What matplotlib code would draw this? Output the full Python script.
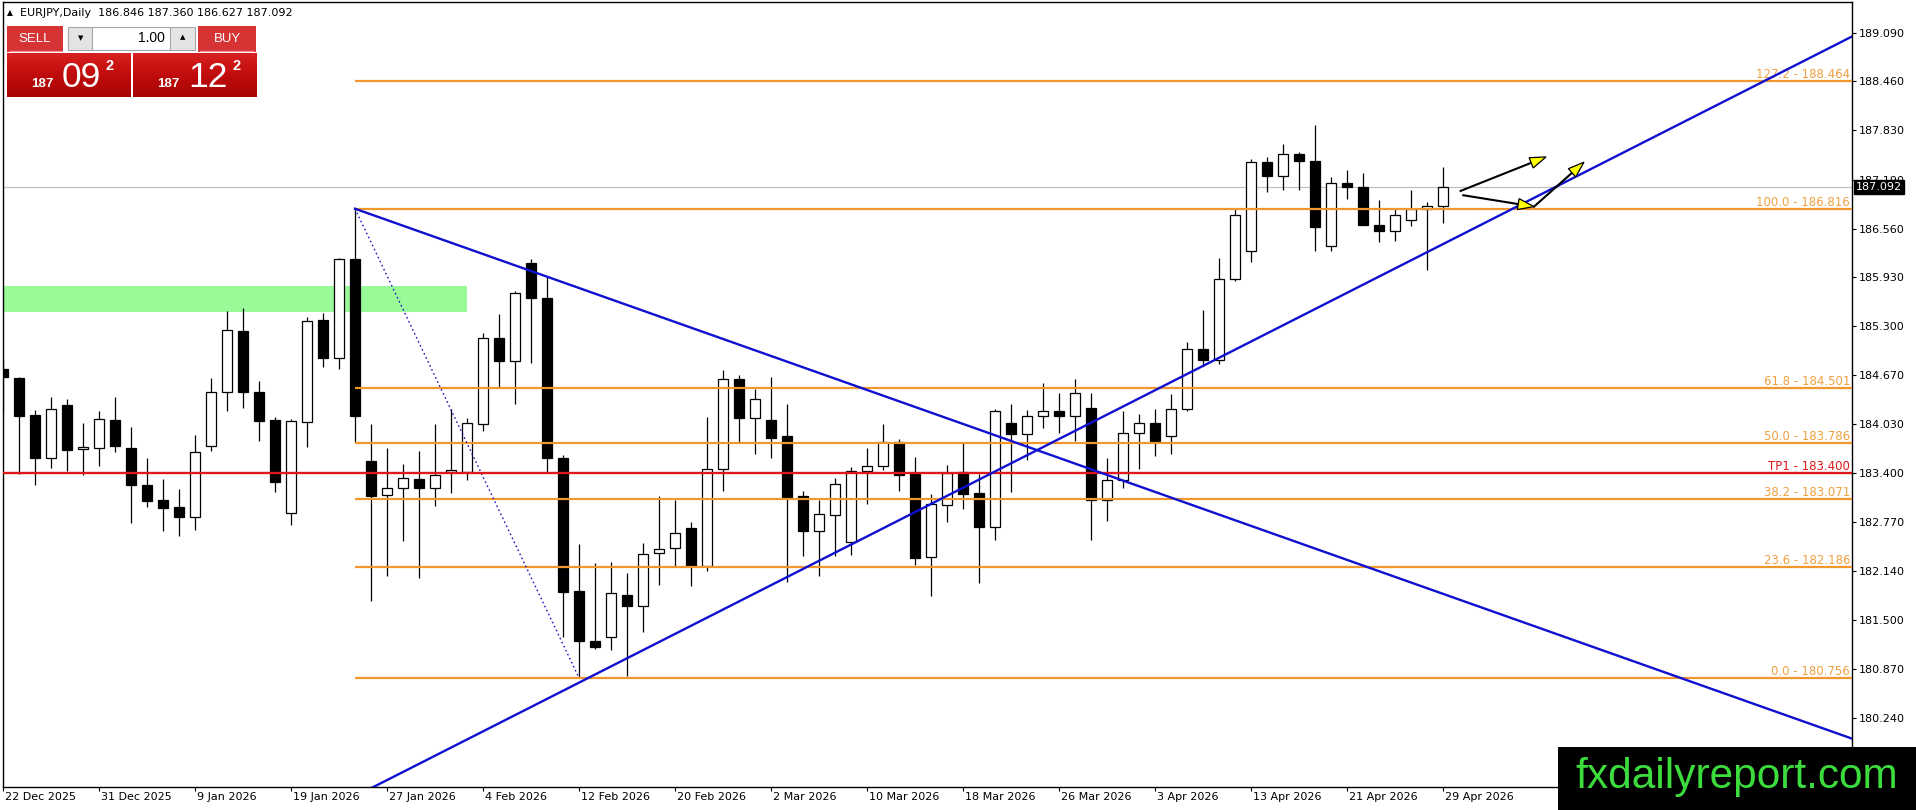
import matplotlib
matplotlib.use('Agg')
import matplotlib.pyplot as plt
import matplotlib.transforms as mtransforms
from matplotlib.patches import Rectangle, Polygon
from matplotlib.colors import LinearSegmentedColormap
import numpy as np

# ---------------- data ----------------
symbol_title = "EURJPY,Daily"
header_ohlc = "186.846 187.360 186.627 187.092"

opens = [184.74, 184.63, 184.15, 183.60, 184.28, 183.71, 183.73, 184.085, 183.72, 183.244,
         183.05, 182.956, 182.827, 183.752, 184.453, 185.232, 184.453, 184.083, 182.879, 184.066,
         185.374, 184.892, 186.161, 183.550, 183.116, 183.202, 183.322, 183.202, 183.42, 183.417,
         184.04, 185.15, 184.849, 186.109, 185.666, 183.589, 181.873, 181.236, 181.279, 181.83,
         181.679, 182.363, 182.428, 182.685, 182.204, 183.452, 184.613, 184.118, 184.084, 183.873,
         183.099, 182.656, 182.862, 182.505, 183.43, 183.495, 183.796, 183.387, 182.32, 182.991,
         183.409, 183.142, 182.708, 184.045, 183.908, 184.14, 184.196, 184.14, 184.238, 183.05,
         183.309, 183.924, 184.053, 183.881, 184.234, 185.008, 184.862, 185.911, 186.272, 187.421,
         187.236, 187.524, 187.438, 186.333, 187.15, 187.098, 186.604, 186.526, 186.664, 186.806,
         186.846]
highs = [184.87, 184.64, 184.22, 184.38, 184.36, 184.045, 184.20, 184.38, 184.00, 183.59,
         183.33, 183.20, 183.898, 184.625, 185.494, 185.529, 184.591, 184.131, 184.105, 185.421,
         185.473, 186.174, 186.816, 184.032, 183.722, 183.524, 183.688, 184.032, 184.225, 184.118,
         185.215, 185.451, 185.752, 186.169, 185.937, 183.636, 182.483, 182.238, 182.247, 182.109,
         182.492, 183.098, 183.051, 182.763, 184.131, 184.729, 184.665, 184.493, 184.647, 184.29,
         183.163, 183.052, 183.335, 183.482, 183.723, 184.032, 183.839, 183.602, 183.129, 183.503,
         183.787, 183.387, 184.234, 184.29, 184.213, 184.561, 184.441, 184.613, 184.441, 183.601,
         184.204, 184.161, 184.225, 184.419, 185.098, 185.502, 186.182, 186.814, 187.459, 187.485,
         187.657, 187.55, 187.902, 187.227, 187.313, 187.279, 186.926, 186.819, 187.064, 186.905,
         187.360]
lows = [184.18, 183.39, 183.24, 183.46, 183.43, 183.37, 183.49, 183.67, 182.76, 182.965,
        182.655, 182.59, 182.668, 183.688, 184.204, 184.238, 183.817, 183.159, 182.728, 183.731,
        184.776, 184.750, 183.795, 181.744, 182.075, 182.526, 182.040, 182.978, 183.137, 183.313,
        183.946, 184.518, 184.29, 184.819, 183.40, 181.288, 180.756, 181.13, 181.116, 180.776,
        181.352, 181.954, 182.182, 181.946, 182.14, 183.172, 183.783, 183.645, 183.594, 181.989,
        182.333, 182.075, 182.325, 182.346, 183.0, 183.439, 183.172, 182.213, 181.817, 182.772,
        182.935, 181.981, 182.535, 183.151, 183.572, 183.981, 183.916, 183.817, 182.54, 182.78,
        183.21, 183.451, 183.623, 183.653, 184.204, 184.784, 184.806, 185.881, 186.126, 187.029,
        187.055, 187.055, 186.268, 186.268, 186.943, 186.604, 186.384, 186.397, 186.591, 186.023,
        186.627]
closes = [184.64, 184.14, 183.59, 184.225, 183.70, 183.735, 184.10, 183.75, 183.24, 183.042,
          182.948, 182.836, 183.679, 184.453, 185.245, 184.449, 184.075, 183.288, 184.068, 185.365,
          184.888, 186.161, 184.139, 183.107, 183.206, 183.331, 183.202, 183.374, 183.435, 184.053,
          185.15, 184.849, 185.731, 185.666, 183.589, 181.868, 181.236, 181.15, 181.847, 181.679,
          182.35, 182.419, 182.621, 182.204, 183.452, 184.613, 184.11, 184.363, 183.852, 183.095,
          182.656, 182.871, 183.254, 183.43, 183.495, 183.796, 183.378, 182.303, 183.0, 183.396,
          183.129, 182.708, 184.204, 183.908, 184.14, 184.196, 184.14, 184.441, 183.052, 183.309,
          183.924, 184.053, 183.816, 184.234, 185.008, 184.862, 185.911, 186.737, 187.421, 187.236,
          187.524, 187.429, 186.578, 187.15, 187.094, 186.604, 186.526, 186.737, 186.806, 186.857,
          187.092]

date_labels = ['22 Dec 2025', '31 Dec 2025', '9 Jan 2026', '19 Jan 2026', '27 Jan 2026',
               '4 Feb 2026', '12 Feb 2026', '20 Feb 2026', '2 Mar 2026', '10 Mar 2026',
               '18 Mar 2026', '26 Mar 2026', '3 Apr 2026', '13 Apr 2026', '21 Apr 2026',
               '29 Apr 2026']
date_label_bars = [0, 6, 12, 18, 24, 30, 36, 42, 48, 54, 60, 66, 72, 78, 84, 90]

price_ticks = [189.090, 188.460, 187.830, 187.190, 186.560, 185.930, 185.300, 184.670,
               184.030, 183.400, 182.770, 182.140, 181.500, 180.870, 180.240]

fib_start_bar, fib_end_bar = 22, 36
fib_high, fib_low = 186.816, 180.756
fib_levels = [0.0, 23.6, 38.2, 50.0, 61.8, 100.0, 127.2]
fib_prices = [180.756, 182.186, 183.071, 183.786, 184.501, 186.816, 188.464]

tp1_price = 183.400
current_price = 187.092

zone_bars = [-3, 29]
zone_prices = [185.485, 185.813]

down_line_bars, down_line_prices = [22, 68.56], [186.816, 183.409]
up_line_bars, up_line_prices = [43.56, 91.06], [181.486, 186.47]

arrow_starts = [(91.1, 187.046), (91.27, 186.99), (95.69, 186.843)]
arrow_tips = [(96.44, 187.485), (95.69, 186.843), (98.81, 187.417)]

sell_price = ("187", "09", "2")
buy_price = ("187", "12", "2")
lot_size = "1.00"

# ---------------- figure ----------------
W, H, DPI = 1916, 810, 100
fig = plt.figure(figsize=(W / DPI, H / DPI), dpi=DPI)
fig.patch.set_facecolor('white')

L, R, T, B = 2.5, 1852, 2, 787
ax = fig.add_axes([L / W, 1 - B / H, (R - L) / W, (B - T) / H])
BAR_PX = 16.0
x_left = (L - 3) / BAR_PX
x_right = (R - 3) / BAR_PX
PX_PER_UNIT = 77.4
y_top = 189.09 + (32.7 - T) / PX_PER_UNIT
y_bot = 189.09 - (B - 32.7) / PX_PER_UNIT
ax.set_xlim(x_left, x_right)
ax.set_ylim(y_bot, y_top)

FONT = 'DejaVu Sans'
BLUE = '#1010d0'
ORANGE = '#f2972e'
ORANGE_TXT = '#f0a040'
RED = '#e21818'

for s in ax.spines.values():
    s.set_color('black')
    s.set_linewidth(1.0)

# price axis on the right
ax.yaxis.tick_right()
ax.set_yticks(price_ticks)
ax.set_yticklabels([f"{v:.3f}" for v in price_ticks], fontsize=8, family=FONT)
ax.tick_params(axis='y', direction='out', length=3, width=0.8, pad=2, colors='black')
ax.set_xticks(date_label_bars)
ax.set_xticklabels([''] * len(date_label_bars))
ax.tick_params(axis='x', direction='out', length=3, width=0.8)

date_tr = mtransforms.offset_copy(ax.get_xaxis_transform(), fig=fig, x=2, y=-10, units='dots')
for b, lab in zip(date_label_bars, date_labels):
    ax.text(b, 0, lab, transform=date_tr, ha='left', va='center', fontsize=8,
            family=FONT, color='black', clip_on=False)

# zone rectangle (background)
ax.add_patch(Rectangle((zone_bars[0], zone_prices[0]), zone_bars[1] - zone_bars[0],
                       zone_prices[1] - zone_prices[0], facecolor='#98fb98',
                       edgecolor='none', zorder=0.5))

# current price line
ax.axhline(current_price, color='#c0c0c0', lw=0.9, zorder=0.8)

# candles
body_w = 0.64
n = len(opens)
for i in range(n):
    o, h, l, c = opens[i], highs[i], lows[i], closes[i]
    ax.vlines(i, l, h, color='black', lw=0.9, zorder=2)
    bottom = min(o, c)
    height = max(abs(c - o), 0.008)
    fc = 'white' if c >= o else 'black'
    ax.add_patch(Rectangle((i - body_w / 2, bottom), body_w, height, facecolor=fc,
                           edgecolor='black', lw=0.9, zorder=3))

# fibonacci retracement
for lvl, p in zip(fib_levels, fib_prices):
    ax.plot([fib_start_bar, x_right], [p, p], color=ORANGE, lw=1.6, zorder=4,
            solid_capstyle='butt')
lab_tr = mtransforms.offset_copy(ax.transData, fig=fig, x=-2, y=0, units='dots')
for lvl, p in zip(fib_levels, fib_prices):
    ax.text(x_right, p, f"{lvl:.1f} - {p:.3f}", transform=lab_tr, ha='right', va='bottom',
            fontsize=8.5, family=FONT, color=ORANGE_TXT, zorder=4.5)
ax.plot([fib_start_bar, fib_end_bar], [fib_high, fib_low], color='#1818c0', lw=1.0,
        linestyle=(0, (1.2, 2.0)), zorder=4)

# TP1 line
ax.axhline(tp1_price, color=RED, lw=1.7, zorder=4)
ax.text(x_right, tp1_price, f"TP1 - {tp1_price:.3f}", transform=lab_tr, ha='right',
        va='bottom', fontsize=8.5, family=FONT, color=RED, zorder=4.5)

# trend lines
def line_y(bars, prices, x):
    k = (prices[1] - prices[0]) / (bars[1] - bars[0])
    return prices[0] + k * (x - bars[0])

xs = np.array([down_line_bars[0], x_right])
ax.plot(xs, line_y(down_line_bars, down_line_prices, xs), color=BLUE, lw=1.7, zorder=5)
xs = np.array([x_left, x_right])
ax.plot(xs, line_y(up_line_bars, up_line_prices, xs), color=BLUE, lw=1.7, zorder=5)

# arrows
def draw_arrow(start, tip, head_len=16.0, head_hw=5.5):
    s = ax.transData.transform(start)
    t = ax.transData.transform(tip)
    d = t - s
    u = d / np.hypot(*d)
    nrm = np.array([-u[1], u[0]])
    base = t - u * head_len
    base_d = ax.transData.inverted().transform(base)
    ax.plot([start[0], base_d[0]], [start[1], base_d[1]], color='black', lw=1.5, zorder=6)
    poly = ax.transData.inverted().transform(np.array([t, base + nrm * head_hw, base - nrm * head_hw]))
    ax.add_patch(Polygon(poly, closed=True, facecolor='#ffff00', edgecolor='black',
                         lw=0.9, zorder=7))

for st, tp in zip(arrow_starts, arrow_tips):
    draw_arrow(st, tp)

# current price box on axis
cp_tr = mtransforms.offset_copy(ax.get_yaxis_transform(), fig=fig, x=4, y=0, units='dots')
ax.text(1.0, current_price, f"{current_price:.3f}", transform=cp_tr, ha='left', va='center',
        fontsize=8, family=FONT, color='white', clip_on=False, zorder=10,
        bbox=dict(boxstyle='square,pad=0.18', facecolor='black', edgecolor='black'))

# ---------------- overlay (pixel coordinates) ----------------
ov = fig.add_axes([0, 0, 1, 1], zorder=10)
ov.set_xlim(0, W)
ov.set_ylim(H, 0)
ov.axis('off')
ov.patch.set_alpha(0)

ov.text(6.5, 12.5, '\u25B2', fontsize=5.5, family=FONT, va='center', ha='left', color='black')
ov.text(20.5, 12.8, f"{symbol_title}  {header_ohlc}", fontsize=8, family=FONT,
        va='center', ha='left', color='black')

BTN = '#d63434'
ov.add_patch(Rectangle((6.7, 26), 56.6, 25.7, facecolor=BTN, edgecolor='none'))
ov.add_patch(Rectangle((198, 26), 58.3, 25.7, facecolor=BTN, edgecolor='none'))
ov.plot([10, 62], [51.2, 51.2], color='#f29a9a', lw=0.8)
ov.plot([200, 253], [51.2, 51.2], color='#f29a9a', lw=0.8)
ov.text(35, 39, 'SELL', fontsize=9.5, family='Liberation Sans', color='white',
        ha='center', va='center')
ov.text(227, 39, 'BUY', fontsize=9.5, family='Liberation Sans', color='white',
        ha='center', va='center')
ov.add_patch(Rectangle((68, 26.5), 24.5, 23, facecolor='#e4e4e4', edgecolor='#a8a8a8', lw=0.8))
ov.add_patch(Rectangle((92.5, 26.5), 78, 23, facecolor='white', edgecolor='#a8a8a8', lw=0.8))
ov.add_patch(Rectangle((170.5, 26.5), 24.5, 23, facecolor='#e4e4e4', edgecolor='#a8a8a8', lw=0.8))
ov.text(80.5, 38, '\u25BC', fontsize=5, family=FONT, ha='center', va='center', color='black')
ov.text(182.7, 37, '\u25B2', fontsize=5, family=FONT, ha='center', va='center', color='black')
ov.text(165, 37.5, lot_size, fontsize=10, family='Liberation Sans', ha='right',
        va='center', color='black')

grad = LinearSegmentedColormap.from_list('g', ['#d82020', '#c00c0c', '#a80404'])
garr = np.linspace(0, 1, 64).reshape(-1, 1)
for x0, x1 in [(6.7, 130.7), (133.0, 256.7)]:
    ov.imshow(garr, extent=(x0, x1, 96.7, 52.7), cmap=grad, aspect='auto', zorder=1,
              interpolation='bilinear')
ov.set_xlim(0, W)
ov.set_ylim(H, 0)

for (big, small, sup), (xs0, xb0, xp0) in [(sell_price, (31, 61.5, 106)),
                                           (buy_price, (157.3, 188.3, 232.3))]:
    ov.text(xs0, 87.3, big, fontsize=9.6, fontweight='bold', family='Liberation Sans',
            color='white', ha='left', va='baseline', zorder=3)
    ov.text(xb0, 87.3, small, fontsize=25.5, family='Liberation Sans',
            color='white', ha='left', va='baseline', zorder=3)
    ov.text(xp0, 70, sup, fontsize=10.5, fontweight='bold', family='Liberation Sans',
            color='white', ha='left', va='baseline', zorder=3)

# logo
ov.add_patch(Rectangle((1558, 746.7), W - 1558, H - 746.7, facecolor='black',
                       edgecolor='none', zorder=5))
ov.text(1575, 788, 'fxdailyreport.com', fontsize=30.5, family='Liberation Sans',
        color='#3ddc3d', ha='left', va='baseline', zorder=6)

fig.savefig('out.png', dpi=DPI)
